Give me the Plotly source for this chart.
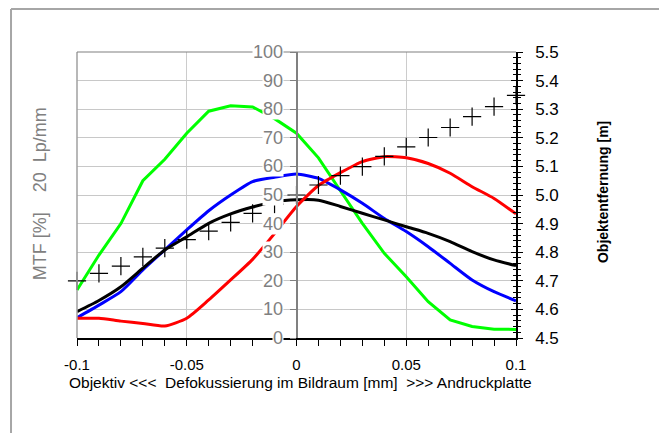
import plotly.graph_objects as go

# Defokussierung [mm], Schritt 0.01
defocus = [round(-0.1 + i * 0.01, 2) for i in range(21)]

# MTF bei 20 Lp/mm [%] (linke Achse)
mtf_green = [16.8, 29, 40, 55, 62.5, 71.6, 79.3, 81.2, 80.8, 76.7, 71.6, 63, 51.5,
             40.1, 29.6, 21.4, 12.7, 6.3, 4.0, 3.1, 3.0]
mtf_blue = [7.1, 11.5, 16.2, 23.8, 30.8, 37.8, 44.5, 50, 54.7, 56.2, 57.3, 55.8, 51.8,
            47.1, 41.8, 37.2, 31.9, 26.1, 20.3, 16.2, 13.0]
mtf_black = [9.2, 13.1, 17.9, 24.4, 30.8, 35.4, 40.1, 43.4, 45.8, 47.6, 48.3, 48.2, 46.0,
             43.6, 41.3, 38.9, 36.6, 33.7, 30.2, 27.3, 25.3]
mtf_red = [6.9, 6.9, 5.9, 5.1, 4.2, 6.9, 13.3, 20.3, 27.5, 36.5, 46.0, 53.3, 57.8,
           61.7, 63.4, 63.0, 61.0, 57.6, 52.9, 48.8, 43.4]

# Objektentfernung [m] (rechte Achse)
distance = [4.700, 4.726, 4.751, 4.784, 4.814, 4.844, 4.874, 4.904, 4.936, 4.968, 5.000,
            5.035, 5.068, 5.099, 5.135, 5.168, 5.201, 5.236, 5.274, 5.309, 5.348]

left_ticks = list(range(0, 101, 10))
x_tickvals = [-0.1, -0.05, 0, 0.05, 0.1]
x_ticktext = ["-0.1", "-0.05", "0", "0.05", "0.1"]

FONT = "Liberation Sans, Arial, sans-serif"
GRAY = "#808080"

fig = go.Figure()

for vals, col, shape in [(mtf_green, "#00ff00", "linear"), (mtf_blue, "#0000ff", "spline"),
                         (mtf_black, "#000000", "spline"), (mtf_red, "#ff0000", "spline")]:
    fig.add_trace(go.Scatter(x=defocus, y=vals, mode="lines",
                             line=dict(color=col, width=3, shape=shape, smoothing=0.6),
                             yaxis="y"))

fig.add_trace(go.Scatter(
    x=defocus, y=distance, mode="markers", yaxis="y2", cliponaxis=False,
    marker=dict(symbol="cross-thin", size=13, line=dict(color="black", width=1.2)),
))

# linke Achsenbeschriftung mit weissem Hintergrund (verdeckt Linien wie im Original)
annotations = []
for v in left_ticks:
    annotations.append(dict(
        x=0, y=v, xref="x", yref="y", text=str(v), showarrow=False,
        xanchor="right", yanchor="middle", xshift=-13, bgcolor="white", borderpad=0,
        font=dict(family=FONT, size=18, color=GRAY)))

annotations += [
    dict(x=-0.084, y=0.503, xref="paper", yref="paper", textangle=-90, showarrow=False,
         xanchor="center", yanchor="middle",
         text="MTF [%]\u00a0\u00a0\u00a0\u00a020\u00a0\u00a0Lp/mm",
         font=dict(family=FONT, size=18, color=GRAY)),
    dict(x=1.198, y=0.51, xref="paper", yref="paper", textangle=-90, showarrow=False,
         xanchor="center", yanchor="middle",
         text="<b>Objektentfernung [m]</b>", font=dict(family=FONT, size=14, color="black")),
    dict(x=0.508, y=-0.157, xref="paper", yref="paper", showarrow=False,
         xanchor="center", yanchor="middle",
         text="Objektiv &lt;&lt;&lt;\u00a0 Defokussierung im Bildraum [mm]\u00a0 &gt;&gt;&gt; Andruckplatte",
         font=dict(family=FONT, size=15.5, color="black")),
]

shapes = [
    # aeusserer Rahmen
    dict(type="line", xref="paper", yref="paper", x0=-0.1503, x1=-0.1503, y0=1.150, y1=-0.4,
         line=dict(color="#a6a6a6", width=2)),
    dict(type="line", xref="paper", yref="paper", x0=-0.1503, x1=1.4, y0=1.150, y1=1.150,
         line=dict(color="#a6a6a6", width=2)),
    # Plotbereich oben / links
    dict(type="line", xref="paper", yref="paper", x0=0, x1=0, y0=0, y1=1,
         line=dict(color="#a0a0a0", width=1.5)),
    dict(type="line", xref="paper", yref="paper", x0=0, x1=1, y0=1, y1=1,
         line=dict(color=GRAY, width=1.2)),
]

fig.update_layout(
    width=659, height=425,
    margin=dict(l=69, r=151, t=44, b=95),
    paper_bgcolor="white", plot_bgcolor="white",
    showlegend=False,
    font=dict(family=FONT, color="black"),
    annotations=annotations,
    shapes=shapes,
    xaxis=dict(
        range=[-0.1, 0.1], tickmode="array", tickvals=x_tickvals, ticktext=x_ticktext,
        showline=True, linecolor="black", linewidth=1.5,
        ticks="outside", ticklen=6, tickcolor="black", tickwidth=1.2,
        ticklabelstandoff=6,
        tickfont=dict(size=15, color="black"),
        showgrid=True, gridcolor="#cccccc", gridwidth=1, zeroline=False,
        minor=dict(tickmode="linear", tick0=-0.1, dtick=0.01, ticks="outside",
                   ticklen=6, tickcolor="black", tickwidth=1.2, showgrid=False),
    ),
    yaxis=dict(
        range=[0, 100], dtick=10, anchor="free", position=0.5,
        showticklabels=False, showline=True, linecolor=GRAY, linewidth=1.5,
        ticks="outside", ticklen=6, tickcolor=GRAY,
        showgrid=True, gridcolor="#c8c8c8", gridwidth=1, zeroline=False,
    ),
    yaxis2=dict(
        range=[4.5, 5.5], dtick=0.1, tickformat=".1f", overlaying="y", side="right",
        anchor="x", showline=True, linecolor="black", linewidth=1.5,
        ticks="outside", ticklen=5, tickcolor="black", ticklabelstandoff=9,
        tickfont=dict(size=17, color="black"),
        showgrid=False, zeroline=False,
        minor=dict(dtick=0.02, ticks="outside", ticklen=3, tickcolor="black", showgrid=False),
    ),
    yaxis3=dict(
        range=[4.5, 5.5], dtick=0.1, overlaying="y", side="right", anchor="x",
        showticklabels=False, ticks="inside", ticklen=5, tickcolor="black",
        showgrid=False, zeroline=False, showline=False,
        minor=dict(dtick=0.02, ticks="inside", ticklen=3, tickcolor="black", showgrid=False),
    ),
)

# unsichtbare Spur, damit yaxis3 gezeichnet wird
fig.add_trace(go.Scatter(x=[None], y=[None], yaxis="y3", hoverinfo="skip"))

fig.write_html("out.html")
